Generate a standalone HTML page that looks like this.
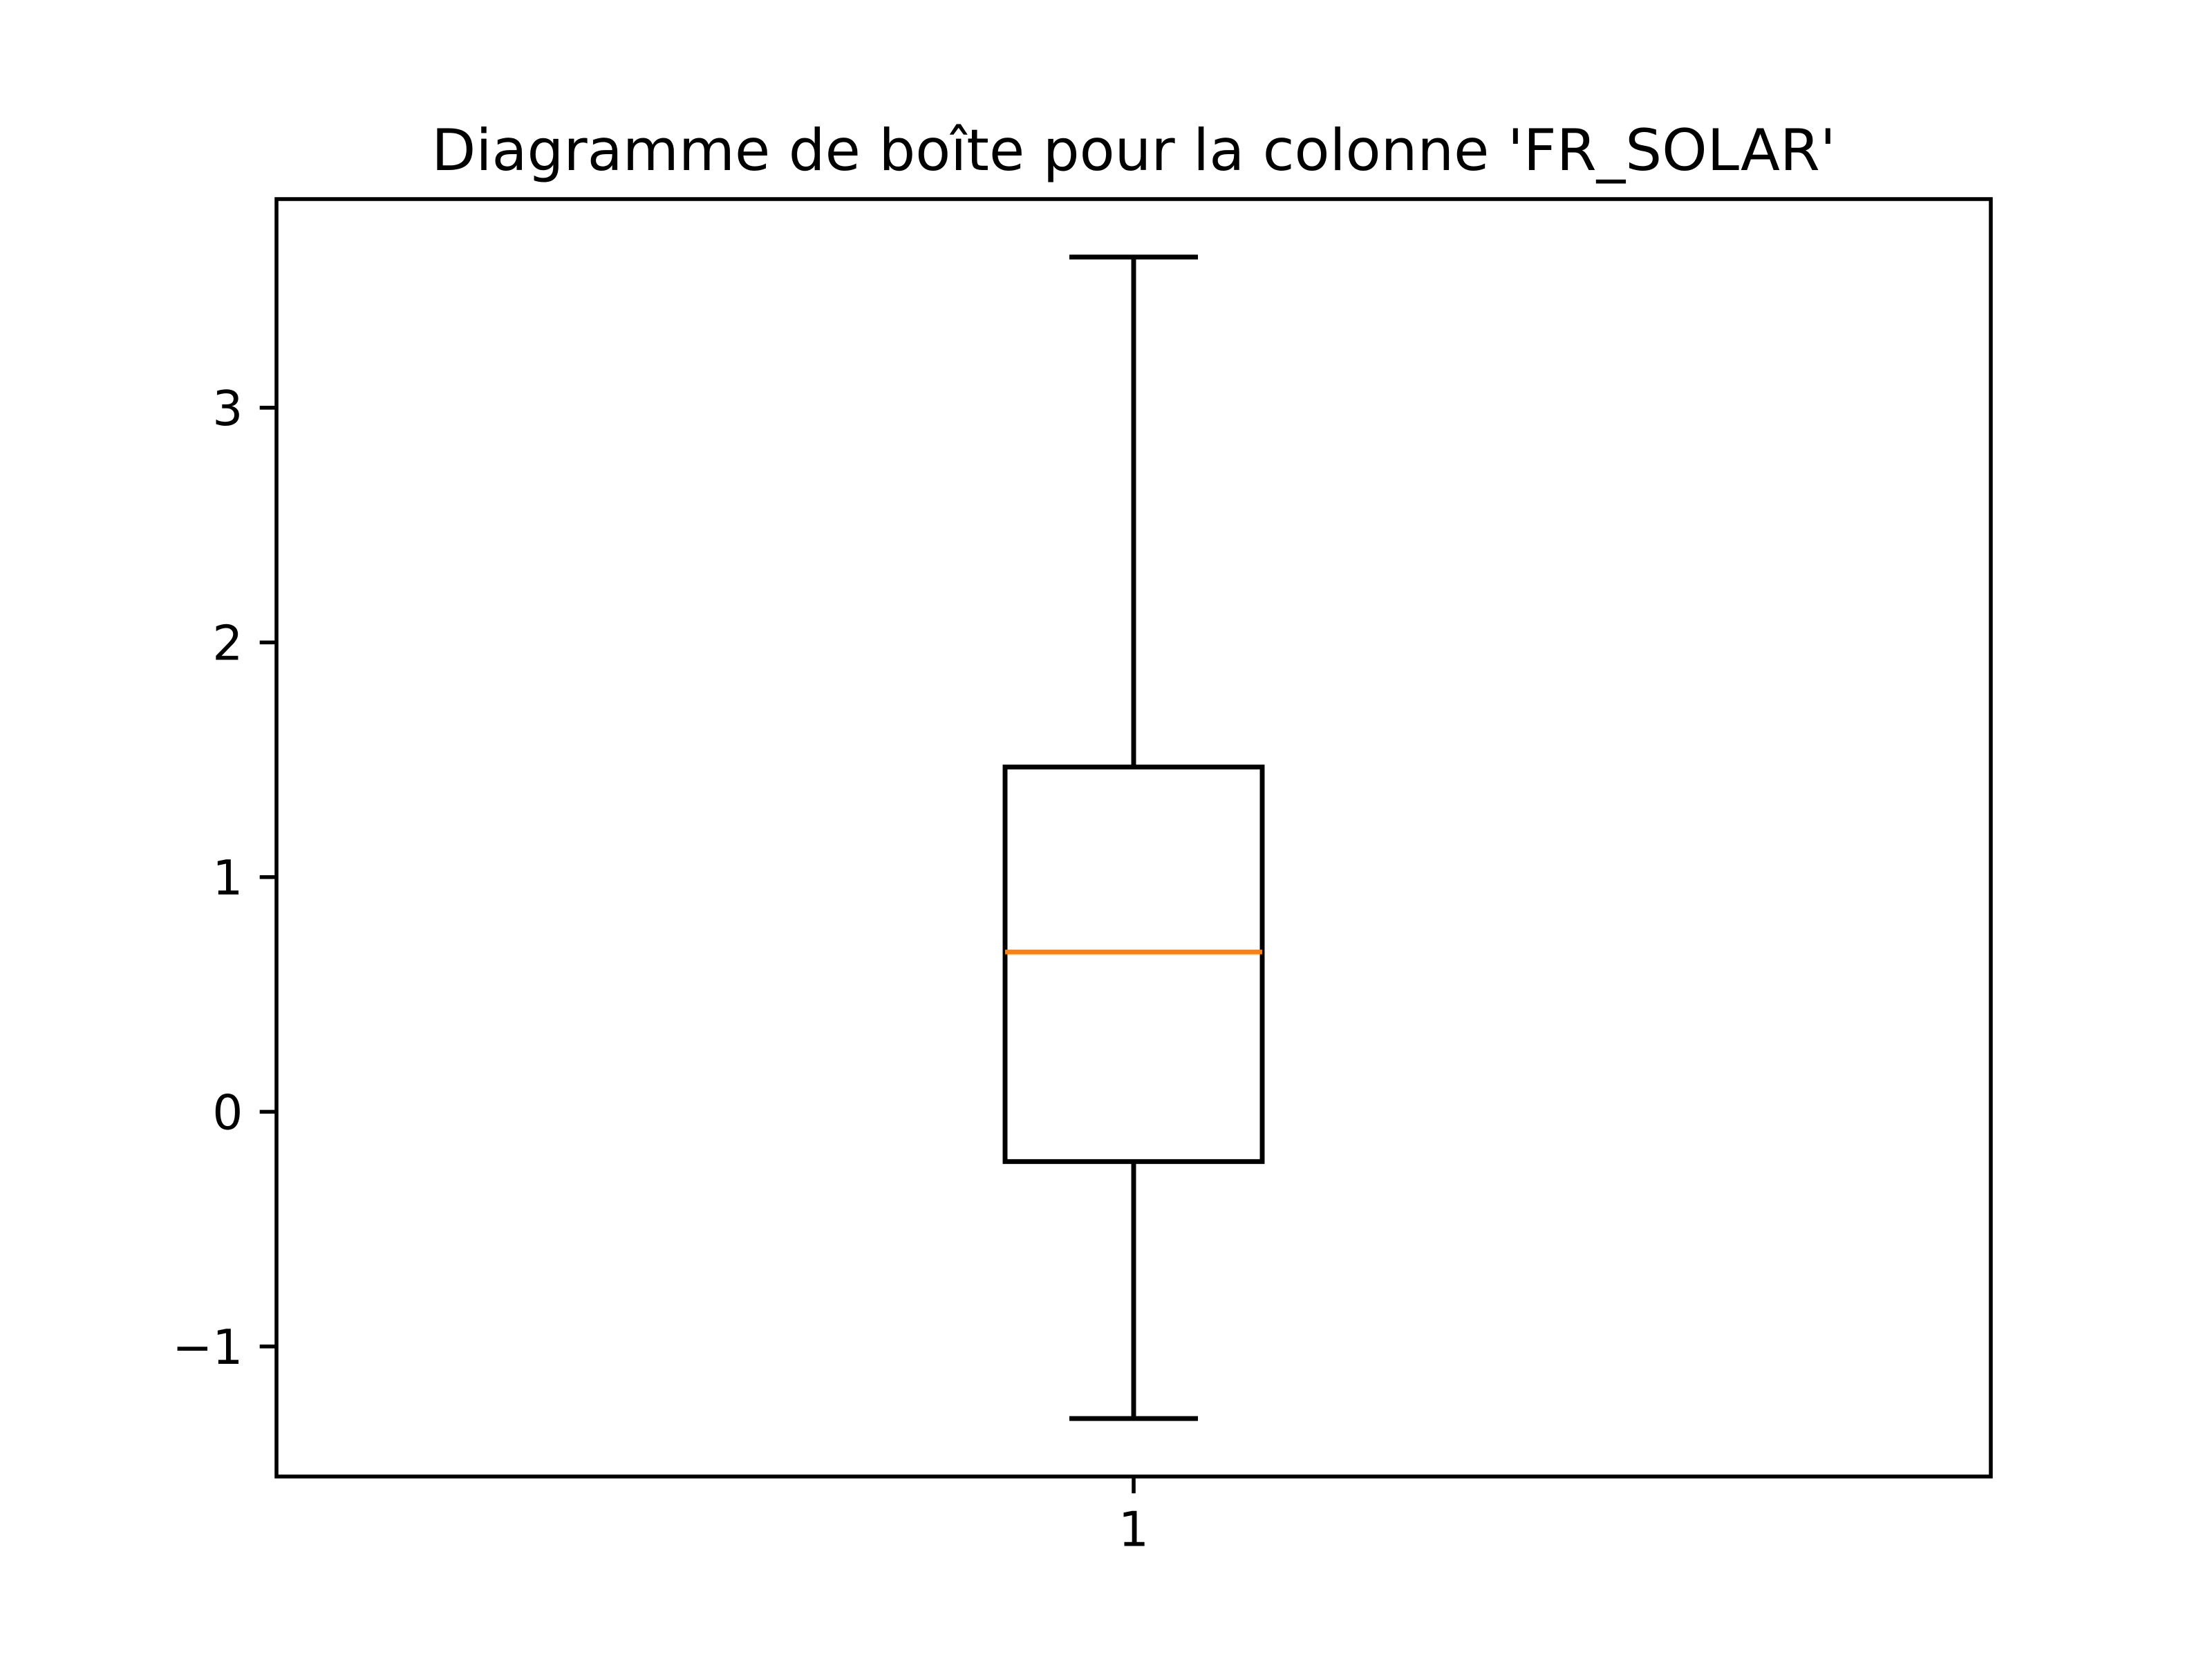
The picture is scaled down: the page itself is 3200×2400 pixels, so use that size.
<!DOCTYPE html>
<html><head><meta charset="utf-8"><style>
html,body{margin:0;padding:0;background:#fff;}
svg{display:block;}
text{font-family:"DejaVu Sans","Liberation Sans",sans-serif;fill:#000;}
</style></head><body>
<svg id="chart" width="3200" height="2400" viewBox="0 0 3200 2400" xmlns="http://www.w3.org/2000/svg">
<rect width="3200" height="2400" fill="#fff"/>
<text x="1640" y="246" font-size="83.3" text-anchor="middle">Diagramme de boîte pour la colonne 'FR_SOLAR'</text>
<g id="plot"></g>
</svg>
<script>
const categories = ["1"];
const whiskerLow = [-1.307];
const q1 = [-0.212];
const median = [0.681];
const q3 = [1.469];
const whiskerHigh = [3.642];
const yTicks = [-1, 0, 1, 2, 3];
const yTickLabels = ["\u22121", "0", "1", "2", "3"];

const L=400,R=2880,T=288,B=2136;
const yMin=-1.554,yMax=3.889,xMin=0.5,xMax=1.5;
const ys=v=>B-(v-yMin)/(yMax-yMin)*(B-T);
const xs=v=>L+(v-xMin)/(xMax-xMin)*(R-L);
const NS="http://www.w3.org/2000/svg";
const g=document.getElementById('plot');
function mk(tag,attrs){const e=document.createElementNS(NS,tag);for(const k in attrs)e.setAttribute(k,attrs[k]);g.appendChild(e);return e;}
const lw=6.94;
categories.forEach((c,i)=>{
  const x=xs(i+1), hw=(xMax-xMin)*0.075*(R-L), cw=hw/2;
  let e;
  e=mk('line',{x1:x,x2:x,y1:ys(q1[i]),y2:ys(whiskerLow[i]),stroke:'#000','stroke-width':lw});
  
  
  e=mk('line',{x1:x,x2:x,y1:ys(q3[i]),y2:ys(whiskerHigh[i]),stroke:'#000','stroke-width':lw});
  
  
  e=mk('line',{x1:x-cw,x2:x+cw,y1:ys(whiskerLow[i]),y2:ys(whiskerLow[i]),stroke:'#000','stroke-width':lw});
  
  
  e=mk('line',{x1:x-cw,x2:x+cw,y1:ys(whiskerHigh[i]),y2:ys(whiskerHigh[i]),stroke:'#000','stroke-width':lw});
  
  
  e=mk('rect',{x:x-hw,y:ys(q3[i]),width:2*hw,height:ys(q1[i])-ys(q3[i]),fill:'none',stroke:'#000','stroke-width':lw});
  
  
  e=mk('line',{x1:x-hw,x2:x+hw,y1:ys(median[i]),y2:ys(median[i]),stroke:'#ff7f0e','stroke-width':lw});
  
  
  e=mk('line',{x1:x,x2:x,y1:B,y2:B+24.3,stroke:'#000','stroke-width':5.56});
  
  
  e=mk('text',{x:x,y:B+48.6+52,'font-size':69.4,'text-anchor':'middle'});
  e.textContent=c;
  
  
});
yTicks.forEach((v,i)=>{
  const y=ys(v);
  let e=mk('line',{x1:L-24.3,x2:L,y1:y,y2:y,stroke:'#000','stroke-width':5.56});
  
  
  e=mk('text',{x:L-48.6,y:y+25,'font-size':69.4,'text-anchor':'end'});
  e.textContent=yTickLabels[i];
  
  
});
const f=mk('rect',{x:L,y:T,width:R-L,height:B-T,fill:'none',stroke:'#000','stroke-width':5.56});


</script>
</body></html>
